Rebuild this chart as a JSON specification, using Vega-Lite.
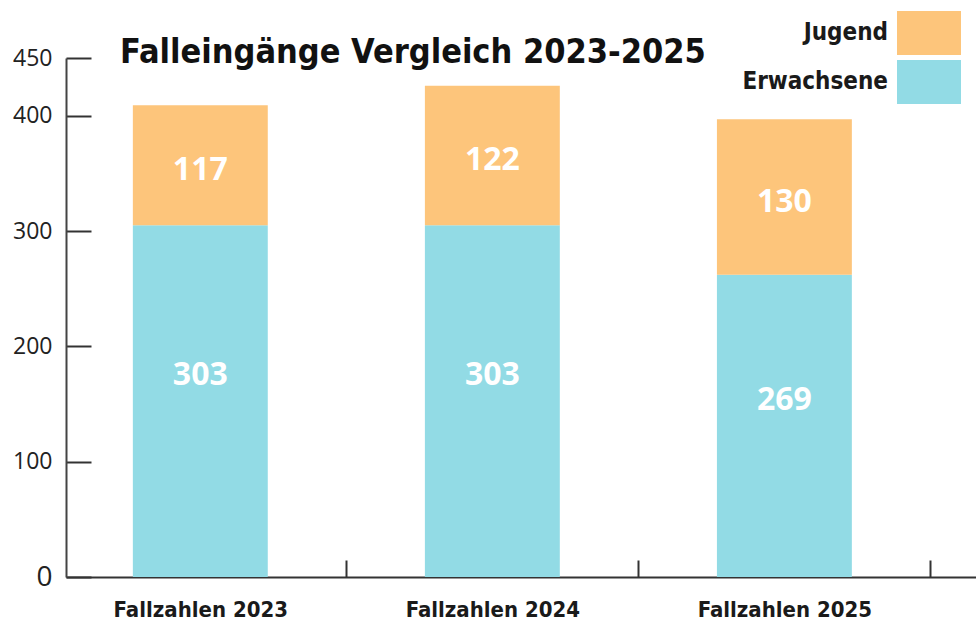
{
  "$schema": "https://vega.github.io/schema/vega-lite/v6.json",
  "width": 910,
  "height": 519,
  "autosize": {"type": "none"},
  "padding": {"left": 66, "top": 58, "right": 0, "bottom": 47},
  "background": "white",
  "config": {"view": {"stroke": null}, "axis": {"grid": false}},
  "title": {
    "text": "Falleingänge Vergleich 2023-2025",
    "anchor": "start",
    "frame": "group",
    "dx": 54,
    "dy": 86,
    "offset": 0,
    "baseline": "alphabetic",
    "font": "DejaVu Sans Condensed, serif",
    "fontSize": 34,
    "fontWeight": "bold",
    "color": "#111111"
  },
  "data": {
    "values": [
      {"jahr": "Fallzahlen 2023", "gruppe": "Erwachsene", "wert": 305, "label": "303"},
      {"jahr": "Fallzahlen 2023", "gruppe": "Jugend", "wert": 104, "label": "117"},
      {"jahr": "Fallzahlen 2024", "gruppe": "Erwachsene", "wert": 305, "label": "303"},
      {"jahr": "Fallzahlen 2024", "gruppe": "Jugend", "wert": 121, "label": "122"},
      {"jahr": "Fallzahlen 2025", "gruppe": "Erwachsene", "wert": 262, "label": "269"},
      {"jahr": "Fallzahlen 2025", "gruppe": "Jugend", "wert": 135, "label": "130"}
    ]
  },
  "encoding": {
    "x": {
      "field": "jahr",
      "type": "nominal",
      "sort": null,
      "scale": {"paddingInner": 0.538, "paddingOuter": 0.327, "align": 0.35},
      "axis": {
        "title": null,
        "labelAngle": 0,
        "labelLimit": 0,
        "domainColor": "#333333",
        "domainWidth": 2,
        "tickColor": "#333333",
        "tickWidth": 2,
        "tickSize": -17,
        "tickOffset": 146,
        "labelOffset": -146,
        "labelPadding": 39,
        "labelFont": "DejaVu Sans Condensed, serif",
        "labelFontSize": 22,
        "labelFontWeight": "bold",
        "labelColor": "#1a1a1a"
      }
    },
    "order": {"field": "gruppe", "sort": "ascending"}
  },
  "layer": [
    {
      "mark": {"type": "bar"},
      "encoding": {
        "y": {
          "field": "wert",
          "type": "quantitative",
          "stack": "zero",
          "scale": {"domain": [0, 450], "nice": false},
          "axis": {
            "title": null,
            "values": [0, 100, 200, 300, 400, 450],
            "domainColor": "#444444",
            "domainWidth": 2,
            "tickColor": "#333333",
            "tickWidth": 2,
            "tickSize": -25,
            "labelPadding": 39,
            "labelFont": "Open Sans",
            "labelFontSize": {"condition": {"test": "datum.value === 0", "value": 28}, "value": 23},
            "labelColor": "#222222"
          }
        },
        "color": {
          "field": "gruppe",
          "type": "nominal",
          "scale": {"domain": ["Jugend", "Erwachsene"], "range": ["#FDC57B", "#92DBE5"]},
          "legend": {
            "title": null,
            "orient": "none",
            "legendX": 841,
            "legendY": -47,
            "padding": 0,
            "symbolType": "M-1.4545,-1L1.4545,-1L1.4545,1L-1.4545,1Z",
            "symbolSize": 1936,
            "symbolStrokeWidth": 0,
            "symbolOpacity": 1,
            "labelAlign": "right",
            "labelOffset": -63,
            "labelFont": "DejaVu Sans Condensed, serif",
            "labelFontSize": 24,
            "labelFontWeight": "bold",
            "labelColor": "#1a1a1a",
            "rowPadding": 5
          }
        }
      }
    },
    {
      "mark": {"type": "text", "color": "white", "font": "Open Sans", "fontSize": 32, "fontWeight": "bold", "dy": 5},
      "encoding": {
        "y": {"field": "wert", "type": "quantitative", "stack": "zero", "bandPosition": 0.5},
        "text": {"condition": {"test": "datum.gruppe === 'Jugend'", "field": "label"}, "value": ""}
      }
    },
    {
      "mark": {"type": "text", "color": "white", "font": "Open Sans", "fontSize": 32, "fontWeight": "bold", "dy": -26},
      "encoding": {
        "y": {"field": "wert", "type": "quantitative", "stack": "zero", "bandPosition": 0.5},
        "text": {"condition": {"test": "datum.gruppe === 'Erwachsene'", "field": "label"}, "value": ""}
      }
    }
  ]
}
